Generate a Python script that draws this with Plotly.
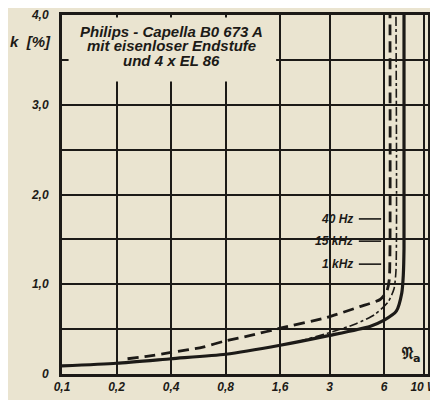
import plotly.graph_objects as go

# ---- data ----
x_ticks = [0.1, 0.2, 0.4, 0.8, 1.6, 3, 6, 10]
x_ticktext = ["0,1", "0,2", "0,4", "0,8", "1,6", "3", "6", "10 W"]
y_ticks = [0, 0.5, 1, 1.5, 2, 2.5, 3, 3.5, 4]
y_ticktext = ["0", "", "1,0", "", "2,0", "", "3,0", "", "4,0"]

p_1khz = [0.1, 0.2, 0.4, 0.8, 1.6, 3, 5, 6.0, 7.0, 7.5, 7.65, 7.72, 7.72]
k_1khz = [0.09, 0.12, 0.17, 0.22, 0.32, 0.43, 0.53, 0.6, 0.7, 0.9, 1.1, 1.4, 4.0]

p_15khz = [2.0, 3.0, 4.2, 5.3, 6.3, 6.8, 6.97, 6.97]
k_15khz = [0.36, 0.46, 0.56, 0.66, 0.8, 0.95, 1.15, 4.0]

p_40hz = [0.23, 0.3, 0.4, 0.6, 0.8, 1.1, 1.6, 2.9, 4.4, 5.7, 6.2, 6.4, 6.46, 6.46]
k_40hz = [0.17, 0.2, 0.24, 0.3, 0.37, 0.43, 0.51, 0.63, 0.75, 0.83, 0.92, 1.05, 1.4, 4.0]

title_lines = ["Philips - Capella B0 673 A", "mit eisenloser Endstufe", "und 4 x EL 86"]
freq_labels = ["40 Hz", "15 kHz", "1 kHz"]

BG = "#eae4d0"
INK = "#1c1a17"
FONT = "Liberation Sans, Arial, sans-serif"

fig = go.Figure()
fig.add_trace(go.Scatter(x=p_1khz, y=k_1khz, mode="lines",
                         line=dict(color=INK, width=3.2, shape="spline", smoothing=0.6)))
fig.add_trace(go.Scatter(x=p_15khz, y=k_15khz, mode="lines",
                         line=dict(color=INK, width=1.6, dash="dashdot", shape="spline", smoothing=0.6)))
fig.add_trace(go.Scatter(x=p_40hz, y=k_40hz, mode="lines",
                         line=dict(color=INK, width=2.8, dash="11px,6px", shape="spline", smoothing=0.6)))

tfont = dict(family=FONT, size=12, color=INK, weight="bold", style="italic")

# page body has an 8px margin, so the figure is made 8px smaller and margins shifted
fig.update_layout(
    width=430, height=392,
    margin=dict(l=54, r=10, t=7, b=26),
    paper_bgcolor=BG, plot_bgcolor=BG,
    showlegend=False,
    xaxis=dict(type="log", range=[-1, 1.02], tickvals=x_ticks, ticktext=x_ticktext,
               showgrid=True, gridcolor=INK, gridwidth=1.5,
               showline=True, linecolor=INK, linewidth=3, mirror=True,
               ticks="", tickfont=tfont, zeroline=False, ticklabeloverflow="allow",
               automargin=False),
    yaxis=dict(range=[0, 4], tickvals=y_ticks, ticktext=y_ticktext,
               showgrid=True, gridcolor=INK, gridwidth=1.5,
               showline=True, linecolor=INK, linewidth=3, mirror=True,
               ticks="", tickfont=tfont, zeroline=False, ticklabelstandoff=8,
               automargin=False),
)

# box behind title text hiding the grid
fig.add_shape(type="rect", xref="paper", yref="paper",
              x0=0.018, x1=0.585, y0=0.815, y1=0.993,
              fillcolor=BG, line=dict(width=0), layer="above")

for txt, yy in zip(title_lines, [0.955, 0.914, 0.872]):
    fig.add_annotation(xref="paper", yref="paper", x=0.30, y=yy, xanchor="center", yanchor="middle",
                       text=txt, showarrow=False,
                       font=dict(family=FONT, size=15, color=INK, weight="bold", style="italic"))

fig.add_annotation(xref="paper", yref="paper", x=-0.025, y=0.925, xanchor="right", yanchor="middle",
                   text="k  [%]", showarrow=False,
                   font=dict(family=FONT, size=15, color=INK, weight="bold", style="italic"))

# frequency labels with leader lines
for txt, yy in zip(freq_labels, [0.432, 0.370, 0.306]):
    fig.add_annotation(xref="paper", yref="paper", x=0.80, y=yy, xanchor="right", yanchor="middle",
                       text=txt, showarrow=False,
                       font=dict(family=FONT, size=12, color=INK, weight="bold", style="italic"))
    fig.add_shape(type="line", xref="paper", yref="paper", x0=0.811, x1=0.872, y0=yy, y1=yy,
                  line=dict(color=INK, width=1.6))

fig.add_annotation(xref="paper", yref="paper", x=0.955, y=0.055, xanchor="center", yanchor="middle",
                   text="𝔑<sub>a</sub>", showarrow=False,
                   font=dict(family="DejaVu Sans, serif", size=16, color=INK, weight="bold"))

fig.write_html("out.html")
